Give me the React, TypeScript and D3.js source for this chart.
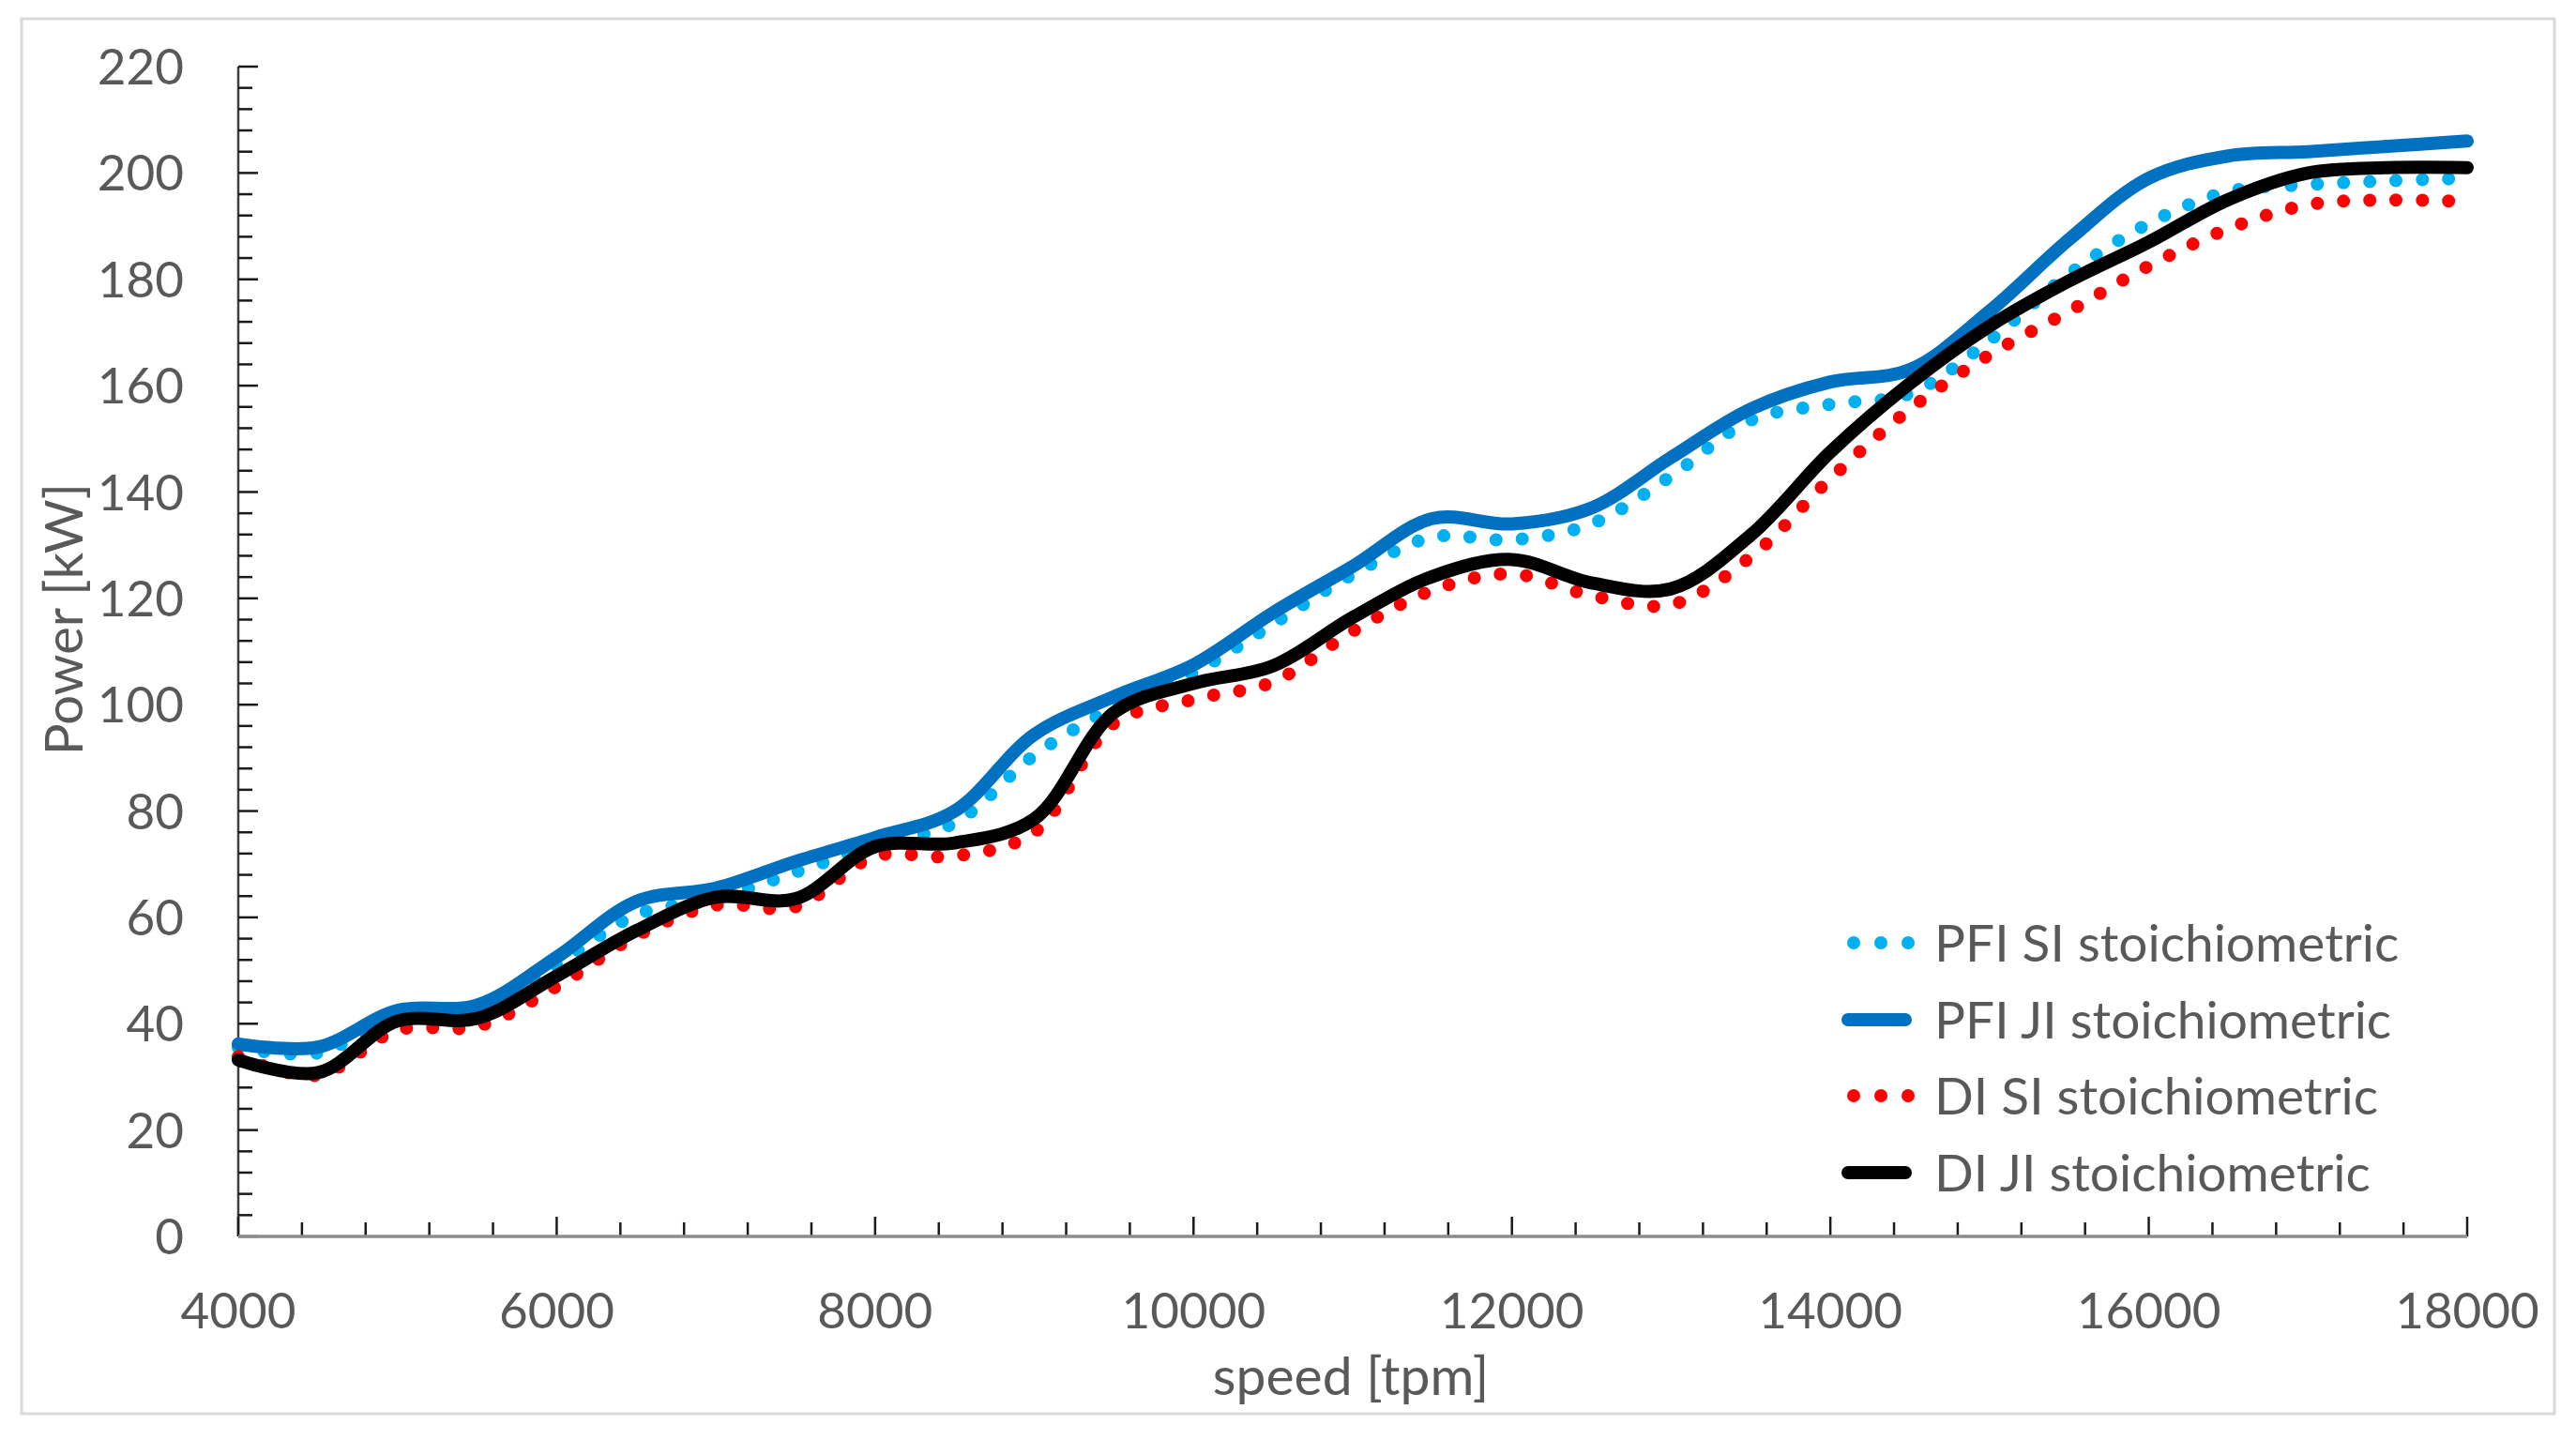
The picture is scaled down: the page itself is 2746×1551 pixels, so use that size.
import { useEffect, useRef } from "react";
import * as d3 from "d3";

const speeds = [
  4000, 4500, 5000, 5500, 6000, 6500, 7000, 7500, 8000, 8500, 9000, 9500,
  10000, 10500, 11000, 11500, 12000, 12500, 13000, 13500, 14000, 14500, 15000,
  15500, 16000, 16500, 17000, 17500, 18000,
];

const pfiSi = [
  35.5, 34.5, 41.5, 42, 51, 60.5, 63.5, 68.5, 73.5, 77.8, 90.5, 99.5, 106,
  115.2, 124.5, 131.5, 131, 134, 143, 153.5, 156.5, 158.5, 168.5, 181, 190.5,
  196.5, 197.8, 198.5, 199,
];
const pfiJi = [
  36.2, 35.6, 42.5, 43.5, 52.5, 63, 65.5, 70.5, 75, 80, 94.4, 101.5, 107.5,
  117.3, 126, 135, 134, 137, 146.5, 155.6, 160.7, 163, 174, 187.5, 199, 203.2,
  204, 205, 206,
];
const diSi = [
  33.8, 30.3, 38.8, 39.5, 47, 56.5, 62.3, 62, 71.5, 71.5, 76, 96.5, 101, 104.3,
  113.8, 121.5, 124.6, 120.5, 118.8, 127.8, 142.5, 155.6, 165.8, 174, 182.5,
  189.5, 194, 194.9, 194.6,
];
const diJi = [
  33.2, 30.8, 40.5, 41, 49, 57.5, 63.8, 63.5, 73.3, 74, 78.5, 98.5, 104, 107.3,
  116.4, 124.1, 127.3, 122.9, 121.8, 131.9, 147.5, 160.4, 171.2, 179.7, 187,
  195, 200, 201, 201,
];

const xTicks = [4000, 6000, 8000, 10000, 12000, 14000, 16000, 18000];
const yTicks = [0, 20, 40, 60, 80, 100, 120, 140, 160, 180, 200, 220];

interface Series {
  name: string;
  values: number[];
  color: string;
  dotted: boolean;
}

const series: Series[] = [
  { name: "PFI SI stoichiometric", values: pfiSi, color: "#00B0F0", dotted: true },
  { name: "PFI JI stoichiometric", values: pfiJi, color: "#0070C0", dotted: false },
  { name: "DI SI stoichiometric", values: diSi, color: "#FF0000", dotted: true },
  { name: "DI JI stoichiometric", values: diJi, color: "#000000", dotted: false },
];

const W = 2746;
const H = 1551;
const FONT = "Lato, 'Open Sans', sans-serif";
const TEXT = "#595959";

const App = () => {
  const svgRef = useRef<SVGSVGElement>(null);

  useEffect(() => {
    if (!svgRef.current) return;
    const svg = d3.select(svgRef.current);
    svg.selectAll("*").remove();

    const x = d3.scaleLinear().domain([4000, 18000]).range([254, 2630]);
    const y = d3.scaleLinear().domain([0, 220]).range([1318, 71]);

    // chart frame
    svg
      .append("rect")
      .attr("x", 23)
      .attr("y", 20)
      .attr("width", 2700)
      .attr("height", 1487)
      .attr("fill", "#fff")
      .attr("stroke", "#D9D9D9")
      .attr("stroke-width", 3);

    const g = svg.append("g");

    // y axis
    g.append("line")
      .attr("x1", x(4000))
      .attr("x2", x(4000))
      .attr("y1", y(220))
      .attr("y2", y(0))
      .attr("stroke", "#404040")
      .attr("stroke-width", 2.5);

    const yMinor = d3.range(0, 221, 4);
    g.selectAll(".ytick")
      .data(yMinor)
      .join("line")
      .attr("x1", x(4000))
      .attr("x2", (d) => x(4000) + (d % 20 === 0 ? 21 : 15))
      .attr("y1", (d) => y(d))
      .attr("y2", (d) => y(d))
      .attr("stroke", "#1a1a1a")
      .attr("stroke-width", 2.5);

    g.selectAll(".ylab")
      .data(yTicks)
      .join("text")
      .attr("x", 196)
      .attr("y", (d) => y(d))
      .attr("dy", "0.36em")
      .attr("text-anchor", "end")
      .style("font-family", FONT)
      .style("font-size", "53px")
      .style("fill", TEXT)
      .text((d) => d);

    // x axis
    const xMinor = d3.range(4000, 18001, 400);
    g.selectAll(".xtick")
      .data(xMinor)
      .join("line")
      .attr("x1", (d) => x(d))
      .attr("x2", (d) => x(d))
      .attr("y1", y(0))
      .attr("y2", (d) => y(0) - ((d - 4000) % 2000 === 0 ? 21 : 15))
      .attr("stroke", "#1a1a1a")
      .attr("stroke-width", 2.5);

    g.append("line")
      .attr("x1", x(4000))
      .attr("x2", x(18000))
      .attr("y1", y(0))
      .attr("y2", y(0))
      .attr("stroke", "#8C8C8C")
      .attr("stroke-width", 3.5);

    g.selectAll(".xlab")
      .data(xTicks)
      .join("text")
      .attr("x", (d) => x(d))
      .attr("y", 1397)
      .attr("dy", "0.36em")
      .attr("text-anchor", "middle")
      .style("font-family", FONT)
      .style("font-size", "53px")
      .style("fill", TEXT)
      .text((d) => d);

    // axis titles
    svg
      .append("text")
      .attr("transform", "translate(68,660) rotate(-90)")
      .attr("dy", "0.36em")
      .attr("text-anchor", "middle")
      .style("font-family", FONT)
      .style("font-size", "56px")
      .style("fill", TEXT)
      .text("Power [kW]");

    svg
      .append("text")
      .attr("x", 1440)
      .attr("y", 1487)
      .attr("text-anchor", "middle")
      .style("font-family", FONT)
      .style("font-size", "57px")
      .style("fill", TEXT)
      .text("speed [tpm]");

    // series
    const line = d3
      .line<number>()
      .x((_, i) => x(speeds[i]))
      .y((d) => y(d))
      .curve(d3.curveCatmullRom.alpha(0.5));

    series.forEach((s) => {
      svg
        .append("path")
        .attr("d", line(s.values))
        .attr("fill", "none")
        .attr("stroke", s.color)
        .attr("stroke-width", 14)
        .attr("stroke-linecap", "round")
        .attr("stroke-linejoin", "round")
        .attr("stroke-dasharray", s.dotted ? "0 28" : null);
    });

    // legend
    const legendY = [1005, 1087, 1168, 1250];
    const leg = svg
      .selectAll(".leg")
      .data(series)
      .join("g")
      .attr("transform", (_, i) => `translate(0,${legendY[i]})`);

    leg.each(function (s) {
      const el = d3.select(this);
      if (s.dotted) {
        [1976, 2005, 2034].forEach((cx) => {
          el.append("circle").attr("cx", cx).attr("cy", 0).attr("r", 7).attr("fill", s.color);
        });
      } else {
        el.append("line")
          .attr("x1", 1970)
          .attr("x2", 2031)
          .attr("stroke", s.color)
          .attr("stroke-width", 14)
          .attr("stroke-linecap", "round");
      }
      el.append("text")
        .attr("x", 2062)
        .attr("dy", "0.36em")
        .style("font-family", FONT)
        .style("font-size", "55px")
        .style("fill", TEXT)
        .text(s.name);
    });
  }, []);

  return (
    <svg
      ref={svgRef}
      width={W}
      height={H}
      style={{ position: "absolute", left: 0, top: 0, background: "#fff" }}
    />
  );
};

export default App;
